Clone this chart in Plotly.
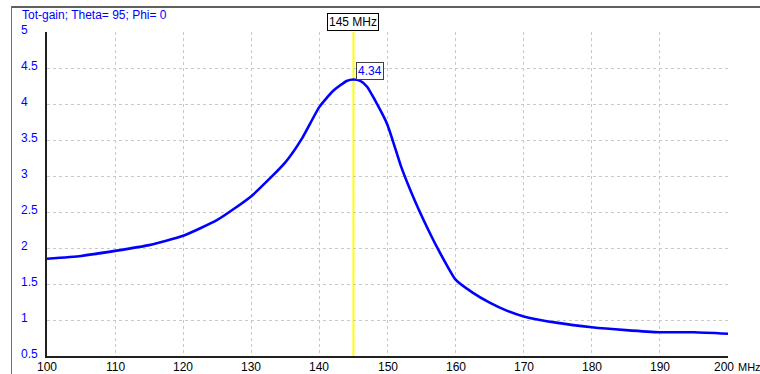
import plotly.graph_objects as go

# Data
freq_mhz = [100, 105, 110, 115, 120, 125, 130, 135, 137.5, 140, 142, 144, 145, 146, 147, 148,
            150, 152, 154, 156, 157.5, 160, 162.5, 165, 167.5, 170, 175, 180, 185, 190, 195, 200]
gain = [1.85, 1.89, 1.96, 2.04, 2.17, 2.39, 2.72, 3.19, 3.53, 3.96, 4.18, 4.32, 4.34, 4.32, 4.24, 4.08,
        3.71, 3.13, 2.66, 2.25, 1.97, 1.56, 1.38, 1.24, 1.13, 1.05, 0.96, 0.90, 0.86, 0.83, 0.83, 0.81]

x_ticks = [100, 110, 120, 130, 140, 150, 160, 170, 180, 190, 200]
x_ticktext = ["100", "110", "120", "130", "140", "150", "160", "170", "180", "190", "200"]
x_unit = "MHz"
y_ticks = [0.5, 1, 1.5, 2, 2.5, 3, 3.5, 4, 4.5, 5]
y_ticktext = ["0.5", "1", "1.5", "2", "2.5", "3", "3.5", "4", "4.5", "5"]

marker_freq = 145
marker_gain = 4.34
title_text = "Tot-gain; Theta= 95; Phi= 0"

W, H = 760, 374
L, R, T, B = 47, 32, 32, 18
pw, ph = W - L - R, H - T - B

def px_x(p):
    return (p - L) / pw

def px_y(p):
    return (H - B - p) / ph

FONT = "Liberation Sans, Arial, sans-serif"
BLUE = "#0000FF"

fig = go.Figure()
fig.add_trace(go.Scatter(x=freq_mhz, y=gain, mode="lines",
                         line=dict(color=BLUE, width=2.6, shape="spline", smoothing=0.5),
                         hoverinfo="skip", showlegend=False))

annotations = []
for v, t in zip(y_ticks, y_ticktext):
    annotations.append(dict(x=px_x(19), xref="paper", y=v, yref="y", text=t, showarrow=False,
                            xanchor="left", yanchor="middle", yshift=2,
                            font=dict(family=FONT, size=12, color=BLUE)))
for v, t in zip(x_ticks, x_ticktext):
    annotations.append(dict(x=v, xref="x", y=0, yref="paper", text=t, showarrow=False,
                            xanchor="center", yanchor="middle", yshift=-10.5,
                            xshift=-4 if v == x_ticks[-1] else 0,
                            font=dict(family=FONT, size=12, color="black")))
annotations.append(dict(x=px_x(736.5), xref="paper", y=0, yref="paper", text=x_unit, showarrow=False,
                        xanchor="left", yanchor="middle", yshift=-10.5, borderpad=0,
                        font=dict(family=FONT, size=11, color="black")))
annotations.append(dict(x=px_x(20), xref="paper", y=px_y(15), yref="paper", text=title_text,
                        showarrow=False, xanchor="left", yanchor="middle",
                        font=dict(family=FONT, size=12, color=BLUE)))
annotations.append(dict(x=marker_freq, xref="x", y=1, yref="paper", text=f"{marker_freq} MHz",
                        showarrow=False, xanchor="center", yanchor="bottom", yshift=1,
                        bordercolor="black", borderwidth=1, borderpad=1, bgcolor="white",
                        font=dict(family=FONT, size=12, color="black")))
annotations.append(dict(x=marker_freq, xref="x", y=marker_gain, yref="y", text=f"{marker_gain:.2f}",
                        showarrow=False, xanchor="left", yanchor="bottom", xshift=3, yshift=0,
                        bordercolor="#404040", borderwidth=1, borderpad=1, bgcolor="white",
                        font=dict(family=FONT, size=12, color=BLUE)))

shapes = [
    dict(type="line", xref="x", yref="paper", x0=marker_freq, x1=marker_freq, y0=0, y1=1,
         line=dict(color="#FFFF00", width=2), layer="below"),
    dict(type="line", xref="paper", yref="paper", x0=px_x(11), x1=px_x(762), y0=px_y(7), y1=px_y(7),
         line=dict(color="#606060", width=2)),
    dict(type="line", xref="paper", yref="paper", x0=px_x(11.5), x1=px_x(11.5), y0=px_y(6), y1=px_y(376),
         line=dict(color="#707070", width=1)),
]

fig.update_layout(
    width=W, height=H,
    margin=dict(l=L, r=R, t=T, b=B, pad=0, autoexpand=False),
    paper_bgcolor="white", plot_bgcolor="white",
    showlegend=False,
    annotations=annotations,
    shapes=shapes,
    xaxis=dict(range=[100, 200], tickmode="array", tickvals=x_ticks, ticktext=x_ticktext,
               showticklabels=False,
               showgrid=True, gridcolor="#c8c8c8", griddash="3px,3px", gridwidth=1,
               showline=True, linecolor="#202020", linewidth=1.5, ticks="", zeroline=False,
               automargin=False, fixedrange=True),
    yaxis=dict(range=[0.5, 5], tickmode="array", tickvals=y_ticks, ticktext=y_ticktext,
               showticklabels=False,
               showgrid=True, gridcolor="#c8c8c8", griddash="3px,3px", gridwidth=1,
               showline=True, linecolor="#202020", linewidth=1.5, ticks="", zeroline=False,
               automargin=False, fixedrange=True),
)

fig.write_html("out.html")
